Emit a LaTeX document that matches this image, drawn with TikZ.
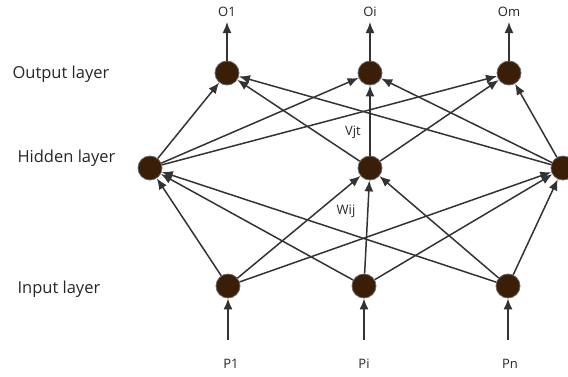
\documentclass[tikz,border=0pt]{standalone}
\usepackage{fontspec}
\setmainfont{Open Sans}
\usetikzlibrary{arrows.meta}
\definecolor{nodefill}{HTML}{3A1E08}
\definecolor{edge}{HTML}{333333}
\begin{document}
\begin{tikzpicture}[x=1pt,y=-1pt,
  neuron/.style={circle,fill=nodefill,draw=gray!80!black,line width=0.8pt,minimum size=24pt,inner sep=0pt},
  conn/.style={draw=edge,line width=1.5pt,-{Latex[length=11pt,width=9pt]}},
  lay/.style={font=\fontsize{16.5}{19}\selectfont,text=black!85,anchor=west},
  io/.style={font=\fontsize{13}{15}\selectfont,text=black!85},
  wt/.style={font=\fontsize{13}{15}\selectfont,text=black!85}]
\useasboundingbox (0,0) rectangle (568,376);
\clip (0,0) rectangle (568,376);
% nodes
\node[neuron] (o1) at (227,73) {};
\node[neuron] (o2) at (370,73) {};
\node[neuron] (o3) at (509,73) {};
\node[neuron] (h1) at (150,168) {};
\node[neuron] (h2) at (370,168) {};
\node[neuron] (h3) at (563,168) {};
\node[neuron] (i1) at (228,286) {};
\node[neuron] (i2) at (364,286) {};
\node[neuron] (i3) at (508,286) {};
% labels
\node[lay] (lo) at (9,74) {Output layer};
\node[lay] (lh) at (14,158) {Hidden layer};
\node[lay] (li) at (14,289) {Input layer};
\node[io] (to1) at (227,12) {O1};
\node[io] (to2) at (370,12) {Oi};
\node[io] (to3) at (509,12) {Om};
\node[io] (tp1) at (231,364) {P1};
\node[io] (tp2) at (364,364) {Pi};
\node[io] (tp3) at (510,364) {Pn};
\node[wt] (vjt) at (353,132) {Vjt};
\node[wt] (wij) at (346,211) {Wij};
% free ends
\coordinate (u1) at (227,22);
\coordinate (u2) at (370,22);
\coordinate (u3) at (509,22);
\coordinate (b1) at (228,340);
\coordinate (b2) at (364,340);
\coordinate (b3) at (508,340);
% edges
\foreach \h in {h1,h2,h3}{
  \foreach \o in {o1,o2,o3}{
    \draw[conn] (\h) -- (\o);
  }
}
\foreach \i in {i1,i2,i3}{
  \foreach \h in {h1,h2,h3}{
    \draw[conn] (\i) -- (\h);
  }
}
\draw[conn] (o1) -- (u1);
\draw[conn] (o2) -- (u2);
\draw[conn] (o3) -- (u3);
\draw[conn] (b1) -- (i1);
\draw[conn] (b2) -- (i2);
\draw[conn] (b3) -- (i3);
\end{tikzpicture}
\end{document}
